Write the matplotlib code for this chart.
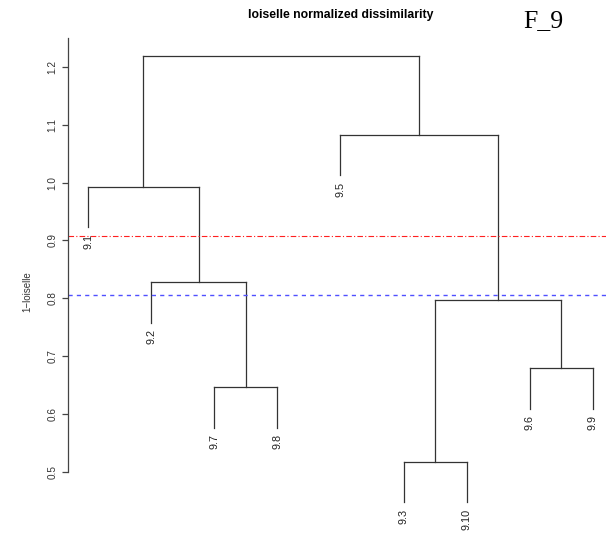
import matplotlib
matplotlib.use('Agg')
import matplotlib.pyplot as plt

# leaf labels in plotting order
leaves = ['9.1', '9.2', '9.7', '9.8', '9.5', '9.3', '9.10', '9.6', '9.9']

# R-style merge table: negative = leaf (1-based position), positive = earlier merge
merge_left = [-3, -2, -1, -6, -8, 4, -5, 3]
merge_right = [-4, 1, 2, -7, -9, 5, 6, 7]
heights = [0.646, 0.828, 0.993, 0.518, 0.679, 0.798, 1.083, 1.219]

cut_red = 0.907
cut_blue = 0.8065
yticks = [0.5, 0.6, 0.7, 0.8, 0.9, 1.0, 1.1, 1.2]

hang = 0.1 * (max(heights) - min(heights))

fig = plt.figure(figsize=(6.06, 5.34), dpi=100)
ax = fig.add_axes([68 / 606, 14 / 534, 545 / 606, 482 / 534])

line_col = '#333333'
xs = {}
ys = {}

for k, (l, r, h) in enumerate(zip(merge_left, merge_right, heights), start=1):
    pts = []
    for c in (l, r):
        if c < 0:
            x, y = -c, h - hang
            ax.annotate(leaves[-c - 1], (x, y), xytext=(0, -4.5), textcoords='offset points',
                        rotation=90, ha='center', va='top', fontsize=7.8,
                        family='Liberation Sans', color='#222222')
        else:
            x, y = xs[c], ys[c]
        ax.plot([x, x], [y, h], color=line_col, lw=0.9)
        pts.append(x)
    ax.plot(pts, [h, h], color=line_col, lw=0.9)
    xs[k] = sum(pts) / 2
    ys[k] = h

ax.axhline(cut_red, color='#ff2020', lw=0.8, ls=(0, (5, 2, 1, 2)))
ax.axhline(cut_blue, color='#5050ff', lw=1.0, ls=(0, (3, 3)))

n = len(leaves)
ax.set_xlim(1 - 0.04 * (n - 1), n + 0.04 * (n - 1))
lo = min(heights) - hang
hi = max(heights)
ax.set_ylim(lo - 0.04 * (hi - lo), hi + 0.04 * (hi - lo))

for s in ['top', 'right', 'bottom']:
    ax.spines[s].set_visible(False)
ax.spines['left'].set_bounds(0.5, hi + 0.04 * (hi - lo))
ax.spines['left'].set_color('#444444')
ax.spines['left'].set_linewidth(0.9)
ax.set_xticks([])
ax.set_yticks(yticks)
ax.set_yticklabels([f'{t:.1f}' for t in yticks], rotation=90, va='center',
                   fontsize=7.2, family='Liberation Sans', color='#333333')
ax.tick_params(axis='y', length=4.3, width=0.9, color='#444444', pad=3.5)

fig.text(27 / 606, 1 - 292 / 534, '1\u2212loiselle', rotation=90, ha='center', va='center',
         fontsize=7, family='Liberation Sans', color='#333333')
fig.text(341 / 606, 1 - 18 / 534, 'loiselle normalized dissimilarity', ha='center',
         va='baseline', fontsize=8.8, fontweight='bold', family='Liberation Sans')
fig.text(523 / 606, 1 - 27 / 534, 'F_9', ha='left', va='baseline', fontsize=18.5,
         family='Liberation Serif')

fig.savefig('out.png', dpi=100)
